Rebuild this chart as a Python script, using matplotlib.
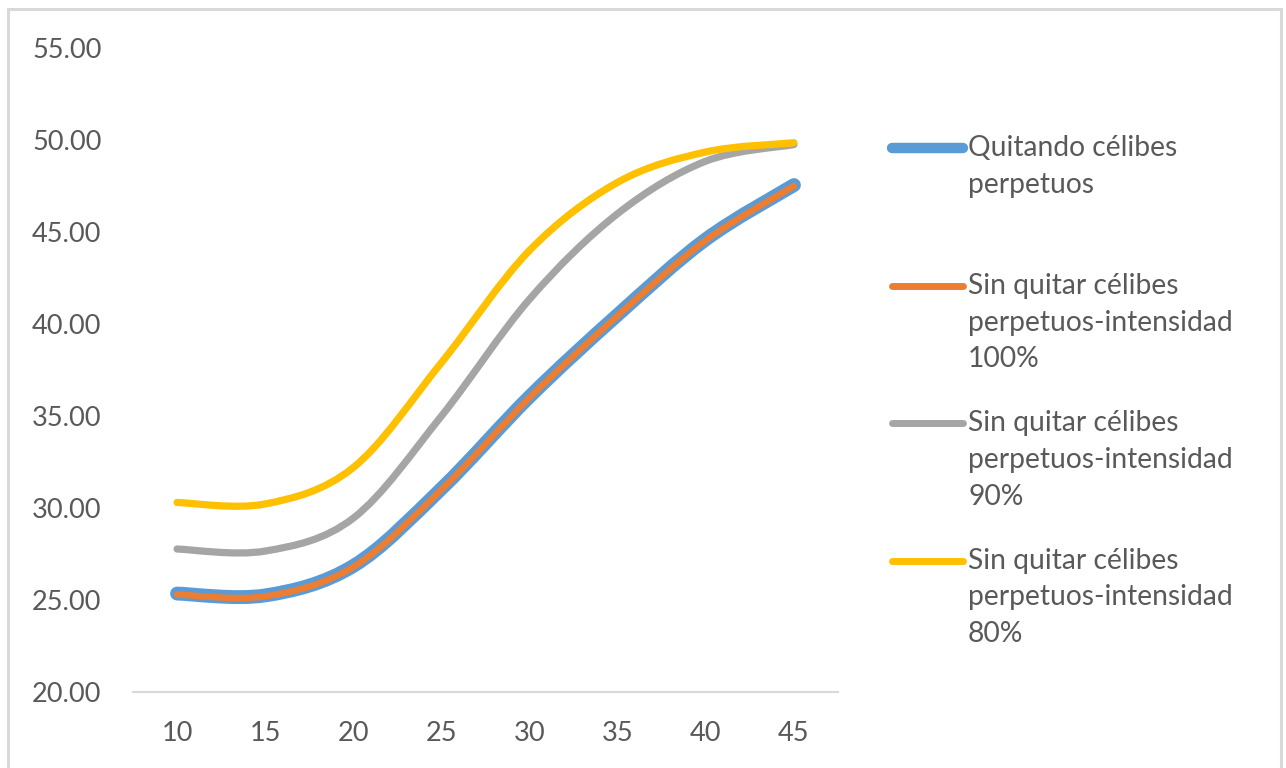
import matplotlib
matplotlib.use("Agg")
import matplotlib.pyplot as plt
from matplotlib.path import Path
from matplotlib.patches import PathPatch, Rectangle
from matplotlib.lines import Line2D
import numpy as np

categories = ["10", "15", "20", "25", "30", "35", "40", "45"]
quitando = [25.35, 25.25, 26.85, 31.05, 36.05, 40.5, 44.6, 47.55]
int100 = [25.3, 25.2, 26.8, 31.0, 36.0, 40.45, 44.55, 47.5]
int90 = [27.77, 27.66, 29.45, 35.0, 41.35, 46.0, 48.85, 49.75]
int80 = [30.3, 30.22, 32.2, 37.9, 44.0, 47.7, 49.35, 49.85]
labels = ["Quitando célibes\nperpetuos",
          "Sin quitar célibes\nperpetuos-intensidad\n100%",
          "Sin quitar célibes\nperpetuos-intensidad\n90%",
          "Sin quitar célibes\nperpetuos-intensidad\n80%"]
yticks = [20, 25, 30, 35, 40, 45, 50, 55]

series = [quitando, int100, int90, int80]
colors = ["#5B9BD5", "#ED7D31", "#A5A5A5", "#FFC000"]
widths = [10, 4.6, 5.2, 5.2]
leg_widths = [7.5, 5.0, 5.0, 5.0]

plt.rcParams['font.family'] = ['Lato', 'DejaVu Sans']

W, H = 1286, 768
fig = plt.figure(figsize=(W / 100, H / 100), dpi=100)
fig.patch.set_facecolor("white")

# outer chart border
fig.add_artist(Rectangle((8 / W, -0.02), (1281 - 8) / W, 1 - 9 / H + 0.02,
                         transform=fig.transFigure, fill=False,
                         edgecolor="#D9D9D9", linewidth=2.2))

ax = fig.add_axes([133 / W, 1 - 692 / H, (838 - 133) / W, (692 - 48) / H])
x = np.arange(len(categories))


def smooth_path(xs, ys):
    pts = np.column_stack([xs, ys]).astype(float)
    n = len(pts)
    verts = [pts[0]]
    codes = [Path.MOVETO]
    for i in range(n - 1):
        p0 = pts[i - 1] if i > 0 else pts[i]
        p1 = pts[i]
        p2 = pts[i + 1]
        p3 = pts[i + 2] if i + 2 < n else pts[i + 1]
        c1 = p1 + (p2 - p0) / 6.0
        c2 = p2 - (p3 - p1) / 6.0
        verts += [c1, c2, p2]
        codes += [Path.CURVE4] * 3
    return Path(verts, codes)


for ys, c, lw in zip(series, colors, widths):
    patch = PathPatch(smooth_path(x, ys), facecolor="none", edgecolor=c,
                      linewidth=lw, capstyle="round", joinstyle="round")
    ax.add_patch(patch)

ax.set_xlim(-0.5, len(categories) - 0.5)
ax.set_ylim(20, 55)
ax.set_xticks(x)
ax.set_xticklabels(categories)
ax.set_yticks(yticks)
ax.set_yticklabels([f"{v:.2f}" for v in yticks])
ax.tick_params(axis="both", length=0, labelsize=19.5, colors="#595959")
ax.tick_params(axis="x", pad=21)
for s in ["top", "right", "left"]:
    ax.spines[s].set_visible(False)
ax.spines["bottom"].set_color("#D9D9D9")
ax.spines["bottom"].set_linewidth(1.5)
for lab in ax.get_yticklabels():
    lab.set_horizontalalignment("left")
ax.tick_params(axis="y", pad=(133 - 32) * 0.72)

# legend drawn manually (Excel-style equal spacing)
line_h = 37
for i, (lab, c, lw) in enumerate(zip(labels, colors, leg_widths)):
    y0 = 148 + 137.5 * i
    fig.add_artist(Line2D([892 / W, 963 / W], [1 - y0 / H, 1 - y0 / H],
                          transform=fig.transFigure, color=c, linewidth=lw,
                          solid_capstyle="round"))
    for k, part in enumerate(lab.split("\n")):
        fig.text(968 / W, 1 - (y0 + k * line_h) / H, part, fontsize=20.3,
                 color="#595959", va="center", ha="left")

fig.savefig("out.png", dpi=100, facecolor="white")
